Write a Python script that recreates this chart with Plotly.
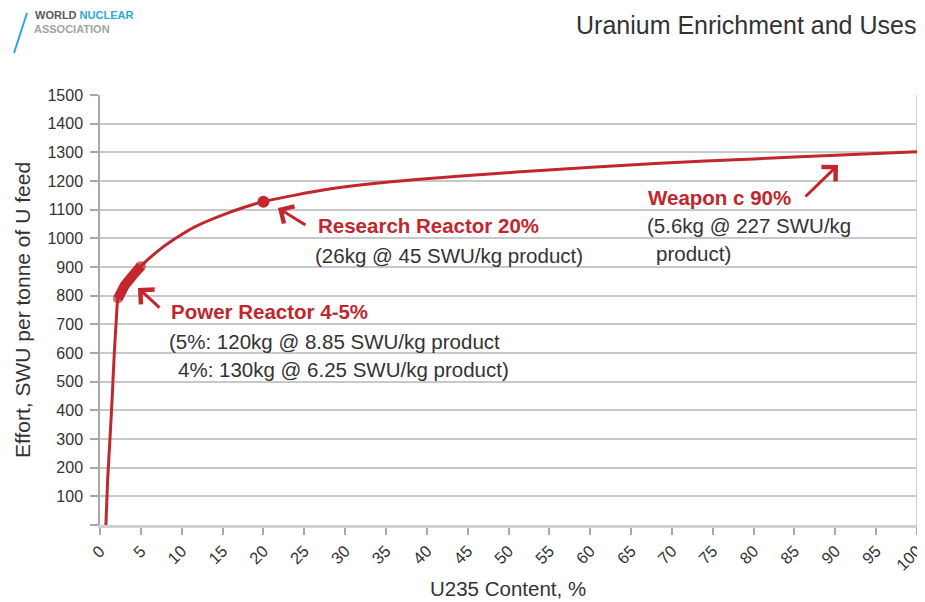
import plotly.graph_objects as go

# ---- data ----
u235_content = [0.72, 0.94, 1.22, 1.5, 1.75, 2.0, 2.2, 3.0, 4.0, 5.0, 7.5, 9.6, 11.6,
                15.7, 20.0, 27.7, 36.0, 52.0, 68.5, 80.0, 90.0, 100.0]
swu_per_tonne = [0, 160, 300, 450, 600, 717, 790, 835, 870, 903, 965, 1006, 1040,
                 1089, 1128, 1170, 1198, 1233, 1262, 1277, 1290, 1302]

power_x = [2.2, 3.0, 4.0, 5.0]
power_y = [790, 835, 870, 903]

research_x = [20.0]
research_y = [1128]

x_tickvals = list(range(0, 101, 5))
x_ticktext = [str(v) for v in x_tickvals]
y_tickvals = list(range(0, 1501, 100))
y_ticktext = [""] + [str(v) for v in range(100, 1501, 100)]

title_text = "Uranium Enrichment and Uses"
x_title = "U235 Content, %"
y_title = "Effort, SWU per tonne of U feed"

RED = "#C1272D"
TXT = "#333333"
FONT = "Liberation Sans, Arial, sans-serif"

# page body has an 8px margin: the figure's origin sits at page (8, 8)
OFF = 8
W, H = 925 - OFF, 602 - OFF
# plot-area pixel geometry in page (reference) coordinates
L, R, T, B = 100, 917, 95, 525


def pxp(x):
    return (x - L) / (R - L)


def pyp(y):
    return (B - y) / (B - T)


fig = go.Figure()

fig.add_trace(go.Scatter(x=u235_content, y=swu_per_tonne, mode="lines",
                         line=dict(color=RED, width=3, shape="spline", smoothing=0.6),
                         hoverinfo="skip", showlegend=False))
fig.add_trace(go.Scatter(x=power_x, y=power_y, mode="lines+markers",
                         line=dict(color=RED, width=10),
                         marker=dict(color=RED, size=[10, 0, 0, 10], line=dict(width=0)),
                         hoverinfo="skip", showlegend=False))
fig.add_trace(go.Scatter(x=research_x, y=research_y, mode="markers",
                         marker=dict(color=RED, size=12, line=dict(width=0)),
                         hoverinfo="skip", showlegend=False))

annotations = []


def text_ann(txt, left, cy, size=20.5, color=TXT, bold=False):
    if bold:
        txt = "<b>" + txt + "</b>"
    annotations.append(dict(text=txt, xref="paper", yref="paper", x=pxp(left), y=pyp(cy),
                            xanchor="left", yanchor="middle", showarrow=False,
                            font=dict(family=FONT, size=size, color=color)))


def arrow(head, tail):
    annotations.append(dict(text="", xref="paper", yref="paper", axref="pixel", ayref="pixel",
                            x=pxp(head[0]), y=pyp(head[1]),
                            ax=tail[0] - head[0], ay=tail[1] - head[1],
                            showarrow=True, arrowhead=4, arrowsize=1.3, arrowwidth=3,
                            arrowcolor=RED))


# labels
text_ann("Research Reactor 20%", 316, 225, color=RED, bold=True)
text_ann("(26kg @ 45 SWU/kg product)", 313, 255)
text_ann("Power Reactor 4-5%", 169, 311, color=RED, bold=True)
text_ann("(5%: 120kg @ 8.85 SWU/kg product", 167, 341)
text_ann("4%: 130kg @ 6.25 SWU/kg product)", 176, 369)
text_ann("Weapon c 90%", 646, 197, color=RED, bold=True)
text_ann("(5.6kg @ 227 SWU/kg", 645, 225)
text_ann("product)", 654, 253)

arrow((138, 288), (161, 309))
arrow((278, 208), (307, 226))
arrow((838, 165), (804, 198))

# title
annotations.append(dict(text=title_text, xref="paper", yref="paper", x=pxp(918), y=pyp(25),
                        xanchor="right", yanchor="middle", showarrow=False,
                        font=dict(family=FONT, size=25, color=TXT)))
# axis titles
annotations.append(dict(text=x_title, xref="paper", yref="paper", x=pxp(508), y=pyp(588),
                        xanchor="center", yanchor="middle", showarrow=False,
                        font=dict(family=FONT, size=20.5, color=TXT)))
annotations.append(dict(text=y_title, xref="paper", yref="paper", x=pxp(22), y=pyp(310),
                        xanchor="center", yanchor="middle", showarrow=False, textangle=-90,
                        font=dict(family=FONT, size=21, color=TXT)))
# logo
annotations.append(dict(text="WORLD <span style='color:#29A9E0'>NUCLEAR</span>",
                        xref="paper", yref="paper", x=pxp(33), y=pyp(15),
                        xanchor="left", yanchor="middle", showarrow=False,
                        font=dict(family=FONT, size=11, color="#58595B", weight="bold")))
annotations.append(dict(text="ASSOCIATION",
                        xref="paper", yref="paper", x=pxp(32), y=pyp(28.5),
                        xanchor="left", yanchor="middle", showarrow=False,
                        font=dict(family=FONT, size=11, color="#A3A3A3", weight="bold")))

shapes = [
    # logo slash
    dict(type="line", xref="paper", yref="paper", x0=pxp(14), y0=pyp(53), x1=pxp(27), y1=pyp(13),
         line=dict(color="#29A9E0", width=2)),
    # right border of the plot area
    dict(type="line", xref="paper", yref="paper", x0=1, y0=0, x1=1, y1=1,
         line=dict(color="#CFCFCF", width=2), layer="below"),
]

fig.update_layout(
    width=W, height=H,
    margin=dict(l=L - OFF, r=925 - R, t=T - OFF, b=602 - B, pad=0),
    paper_bgcolor="white", plot_bgcolor="white",
    font=dict(family=FONT, color=TXT),
    annotations=annotations, shapes=shapes,
    xaxis=dict(range=[0, 100], tickvals=x_tickvals, ticktext=x_ticktext, tickangle=-45,
               showgrid=False, zeroline=False, showline=True, linecolor="#D0D0D0", linewidth=3,
               ticks="outside", ticklen=7, tickcolor="#A8A8A8", tickwidth=1.5,
               tickfont=dict(family=FONT, size=16.5, color=TXT), automargin=False, fixedrange=True),
    yaxis=dict(range=[0, 1500], tickvals=y_tickvals, ticktext=y_ticktext,
               showgrid=True, gridcolor="#C8C8C8", gridwidth=1.5, zeroline=False,
               showline=True, linecolor="#A8A8A8", linewidth=1.5,
               ticks="outside", ticklen=8, tickcolor="#A8A8A8", tickwidth=1.5,
               ticklabelstandoff=4,
               tickfont=dict(family=FONT, size=16, color=TXT), automargin=False, fixedrange=True),
)

fig.write_html("out.html")
